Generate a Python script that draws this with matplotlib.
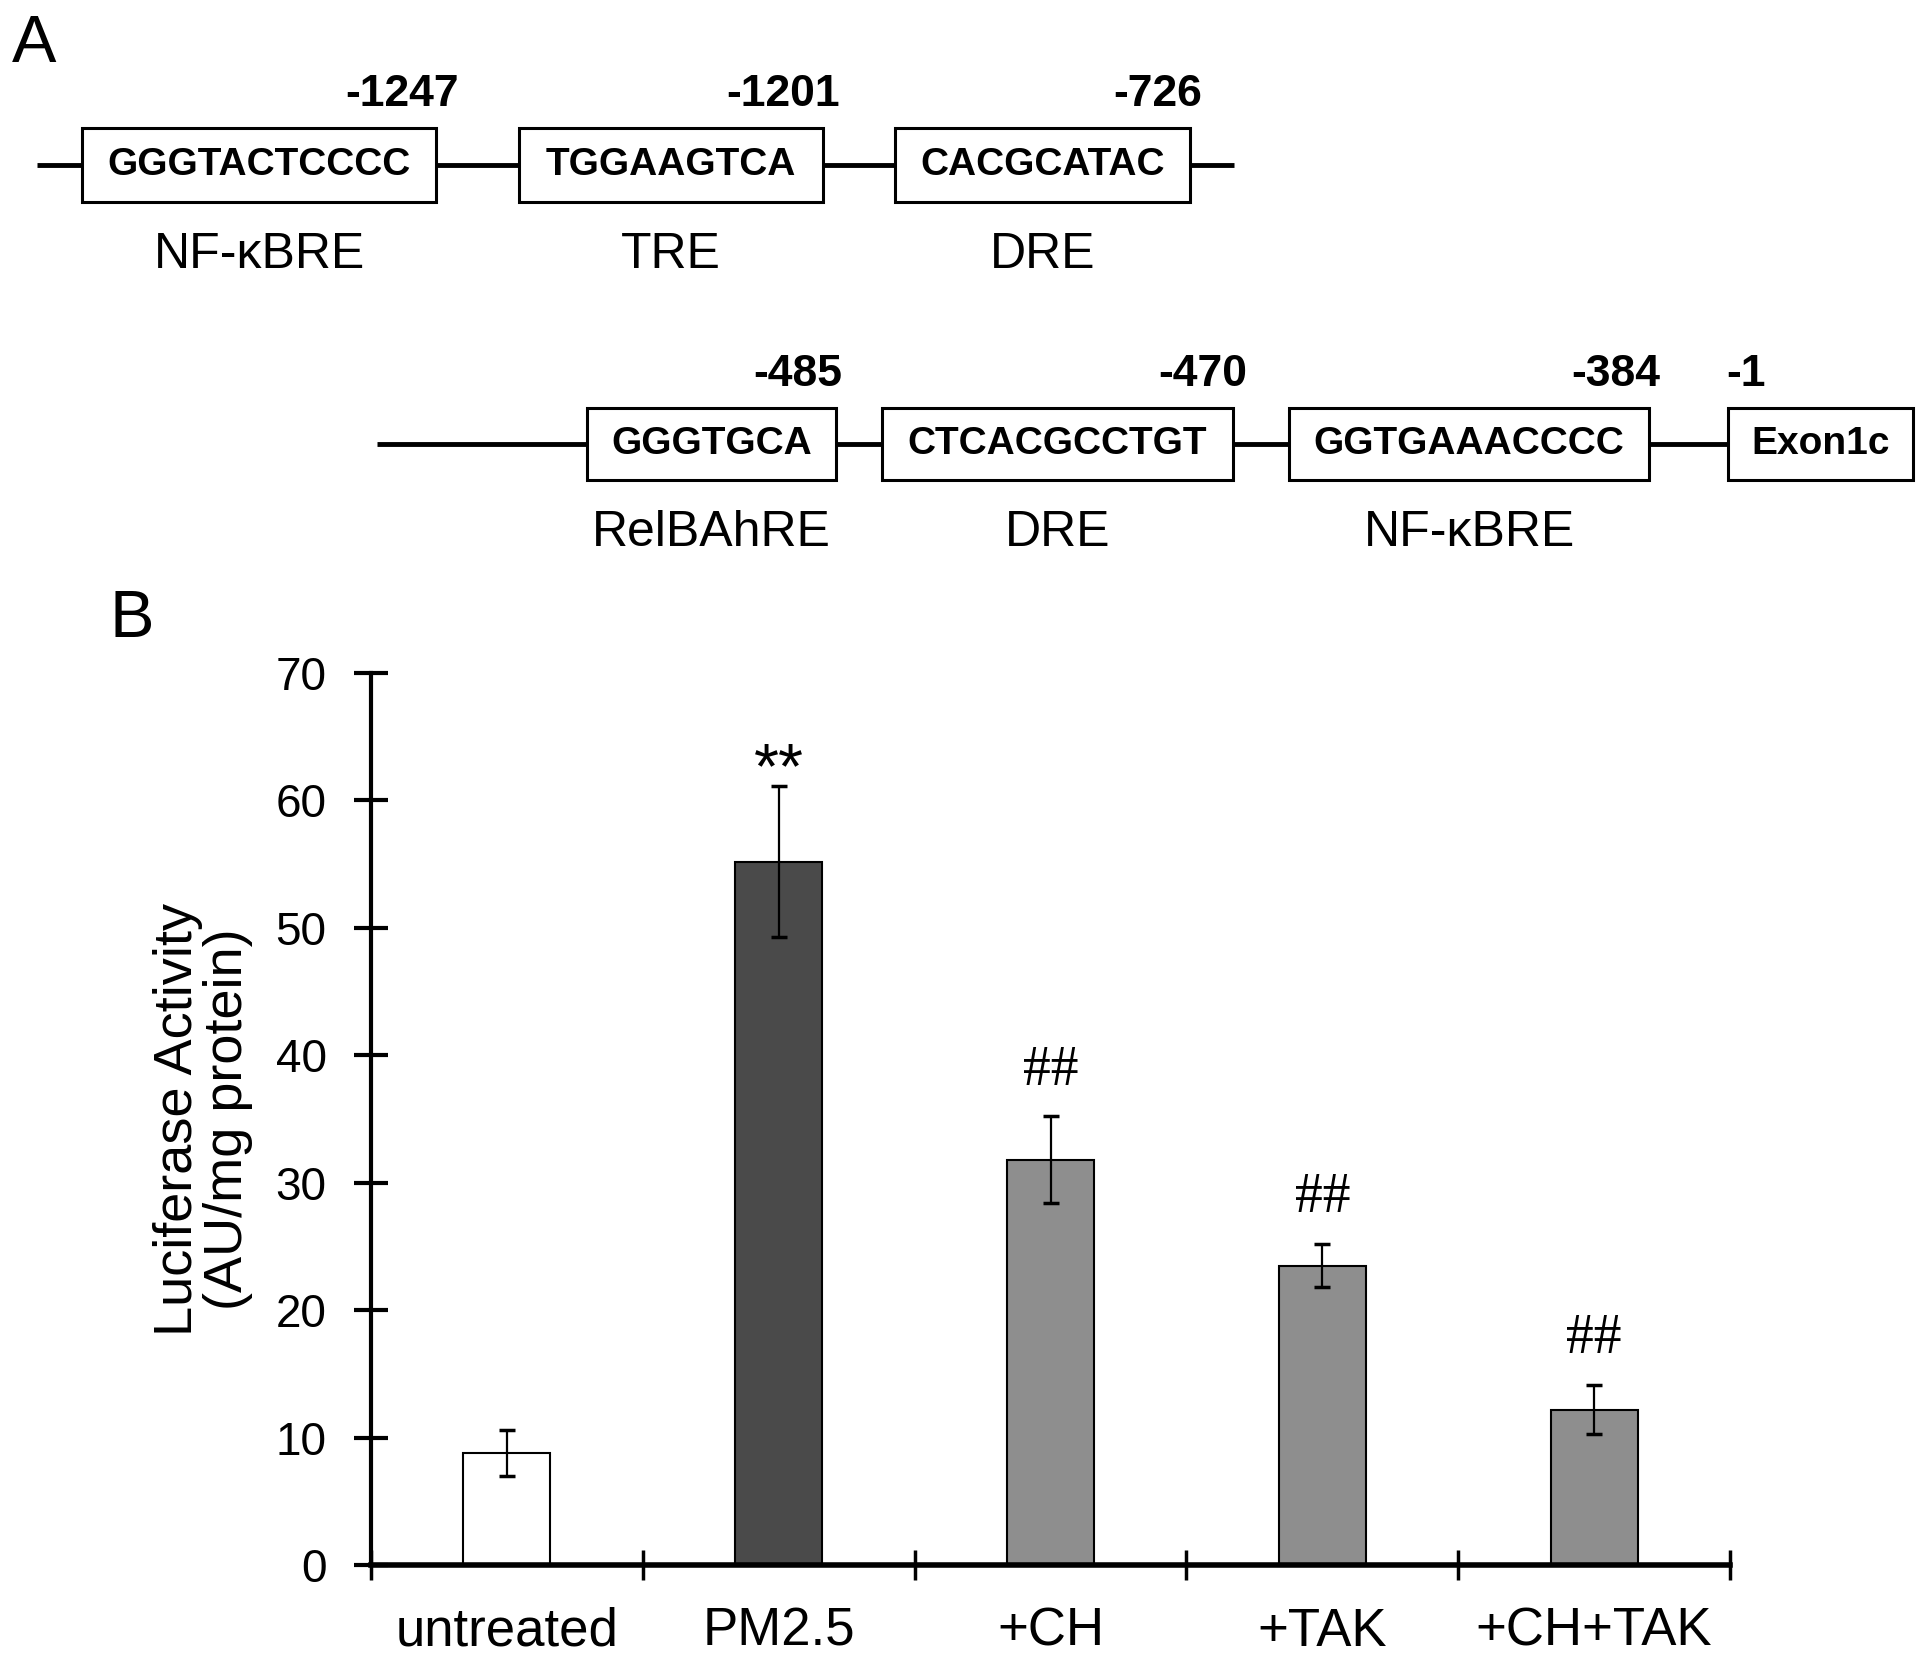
import matplotlib
matplotlib.use("Agg")
import matplotlib.pyplot as plt
from matplotlib.patches import Rectangle

plt.rcParams["font.family"] = ["Liberation Sans", "DejaVu Sans"]

# panel A: promoter elements (two rows)
ROW1_SEQS = ["GGGTACTCCCC", "TGGAAGTCA", "CACGCATAC"]
ROW1_POS = ["-1247", "-1201", "-726"]
ROW1_NAMES = ["NF-\u03baBRE", "TRE", "DRE"]

ROW2_SEQS = ["GGGTGCA", "CTCACGCCTGT", "GGTGAAACCCC", "Exon1c"]
ROW2_POS = ["-485", "-470", "-384", "-1"]
ROW2_NAMES = ["RelBAhRE", "DRE", "NF-\u03baBRE", ""]

# panel B: luciferase assay
GROUPS = ["untreated", "PM2.5", "+CH", "+TAK", "+CH+TAK"]
ACTIVITY = [8.8, 55.2, 31.8, 23.5, 12.2]
ACTIVITY_ERR = [1.8, 5.9, 3.4, 1.7, 1.9]
MARKS = ["", "**", "##", "##", "##"]

BAR_COLORS = ["white", "#4a4a4a", "#8e8e8e", "#8e8e8e", "#8e8e8e"]

W, H = 1920, 1662
fig = plt.figure(figsize=(W / 100, H / 100), dpi=100)

# --- panel A, drawn in pixel coordinates ---
ax_a = fig.add_axes([0, 0, 1, 1])
ax_a.set_xlim(0, W)
ax_a.set_ylim(H, 0)
ax_a.axis("off")


def draw_row(ax, line_y, line_x, boxes, seqs, positions, names, box_h, pos_x):
    ax.plot(line_x, [line_y, line_y], color="black", lw=3.5, zorder=1, solid_capstyle="butt")
    for (x0, x1), seq, pos, name, (xt, ha) in zip(boxes, seqs, positions, names, pos_x):
        ax.add_patch(Rectangle((x0, line_y - box_h / 2), x1 - x0, box_h,
                               facecolor="white", edgecolor="black", lw=2.2, zorder=2))
        ax.text((x0 + x1) / 2, line_y, seq, ha="center", va="center",
                fontsize=28, fontweight="bold", zorder=3)
        ax.text(xt, line_y - box_h / 2 - 34, pos, ha=ha, va="center",
                fontsize=32, fontweight="bold")
        if name:
            ax.text((x0 + x1) / 2, line_y + box_h / 2 + 53, name, ha="center",
                    va="center", fontsize=36)


draw_row(ax_a, 165, [37, 1234],
         [(82, 436), (519, 823), (895, 1190)],
         ROW1_SEQS, ROW1_POS, ROW1_NAMES, 74,
         [(459, "right"), (840, "right"), (1202, "right")])
draw_row(ax_a, 444, [377, 1727],
         [(587, 836), (882, 1233), (1289, 1649), (1728, 1913)],
         ROW2_SEQS, ROW2_POS, ROW2_NAMES, 72,
         [(842, "right"), (1247, "right"), (1660, "right"), (1726, "left")])

ax_a.text(34, 45, "A", ha="center", va="center", fontsize=48)
ax_a.text(132, 620, "B", ha="center", va="center", fontsize=48)

# --- panel B ---
ax = fig.add_axes([371 / W, 97 / H, (1730 - 371) / W, (1565 - 673) / H])
x = range(len(GROUPS))
ax.bar(x, ACTIVITY, width=0.32, color=BAR_COLORS, edgecolor="black", lw=1.5, zorder=2)
ax.errorbar(x, ACTIVITY, yerr=ACTIVITY_ERR, fmt="none", ecolor="black",
            elinewidth=1.6, capsize=6, capthick=2.5, zorder=3)

for xi, val, err, mark in zip(x, ACTIVITY, ACTIVITY_ERR, MARKS):
    if mark == "**":
        ax.text(xi, val + err + 1.2, mark, ha="center", va="center", fontsize=46)
    elif mark:
        ax.text(xi, val + err + 3.6, mark, ha="center", va="center", fontsize=40,
                family="Liberation Serif")

ax.set_xlim(-0.5, len(GROUPS) - 0.5)
ax.set_ylim(0, 70)
ax.set_yticks(range(0, 71, 10))
ax.set_xticks(list(x))
ax.set_xticklabels(GROUPS, fontsize=38)
ax.set_xticks([i - 0.5 for i in range(len(GROUPS) + 1)], minor=True)
ax.tick_params(axis="x", which="major", length=0, pad=30)
ax.tick_params(axis="x", which="minor", length=22, width=2.5, direction="inout")
ax.tick_params(axis="y", length=24, width=3, direction="inout", labelsize=33, pad=20)

for side in ["top", "right"]:
    ax.spines[side].set_visible(False)
ax.spines["left"].set_linewidth(3)
ax.spines["bottom"].set_linewidth(4)

ax.set_ylabel("Luciferase Activity\n(AU/mg protein)", fontsize=39, linespacing=1.0, labelpad=16)

fig.savefig("out.png", dpi=100)
